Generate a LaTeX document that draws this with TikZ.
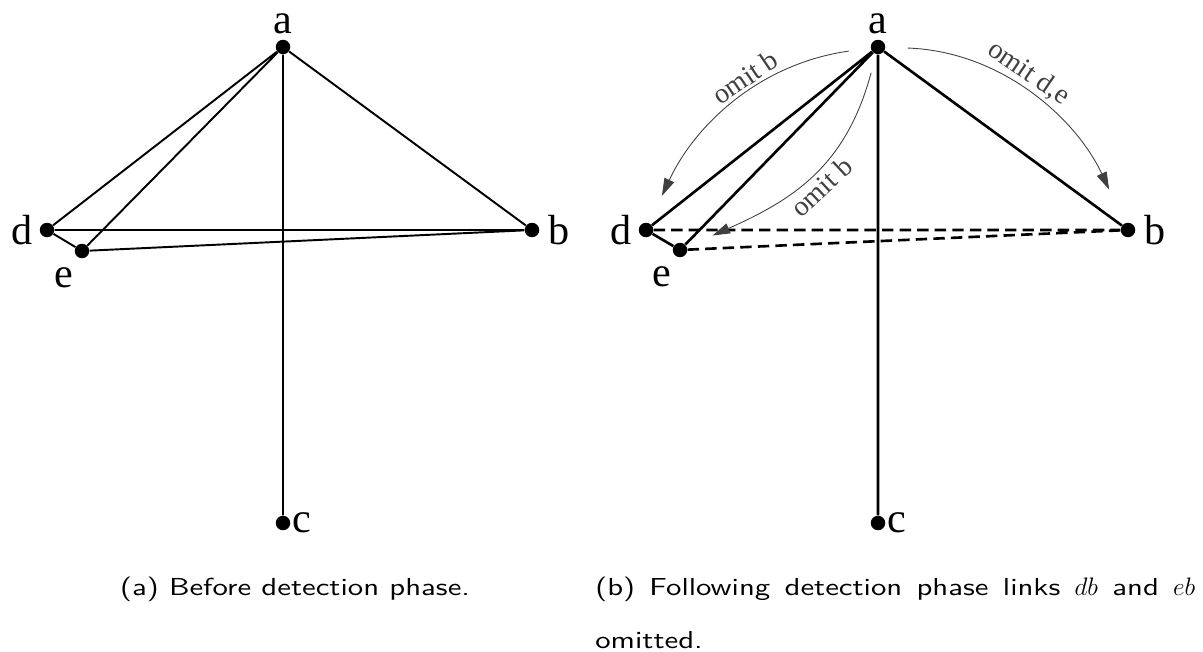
\documentclass[tikz,border=0pt]{standalone}
\usepackage{amsmath}
\usepackage{fontspec}
\usetikzlibrary{arrows.meta}
\newfontfamily\vlfont{Liberation Serif}
\newfontfamily\capfont[FakeStretch=1.25]{lmsans10-regular.otf}

\begin{document}
\begin{tikzpicture}[x=0.02cm,y=-0.02cm,>={Triangle[length=10pt,width=6pt]},
  vtx/.style={circle,fill=black,inner sep=0pt,minimum size=0.29cm},
  every label/.style={font=\vlfont\fontsize{24}{24}\selectfont,inner sep=1pt},
  link/.style={line width=1.1pt},
  cut/.style={line width=1.5pt,dash pattern=on 6.5pt off 3.5pt},
  omit/.style={->,black!75,line width=0.5pt},
  tag/.style={font=\vlfont\fontsize{16}{16}\selectfont,sloped,inner sep=3.5pt},
  captext/.style={font=\capfont\fontsize{14}{30.5}\selectfont,inner sep=0pt}]
\useasboundingbox (0,0) rectangle (1203,652);
% (a) before detection
\node[vtx,label={[label distance=2pt]above:a}] (a1) at (283,47) {};
\node[vtx,label={[label distance=2.5pt]left:d}] (d1) at (47,230) {};
\node[vtx,label={[label distance=5pt]245:e}] (e1) at (82,251) {};
\node[vtx,label={[label distance=4pt]right:b}] (b1) at (532,230) {};
\node[vtx,label={[label distance=0pt]right:c}] (c1) at (283,523) {};
\draw[link] (a1) -- (d1) (a1) -- (e1) (a1) -- (b1) (a1) -- (c1);
\draw[link] (d1) -- (e1) (d1) -- (b1) (e1) -- (b1);
\node[captext,anchor=base] (capa) at (295,595) {(a) Before detection phase.};
% (b) after detection
\node[vtx,label={[label distance=2pt]above:a}] (a2) at (878,47) {};
\node[vtx,label={[label distance=2.5pt]left:d}] (d2) at (646,230) {};
\node[vtx,label={[label distance=5pt]245:e}] (e2) at (680,250) {};
\node[vtx,label={[label distance=4pt]right:b}] (b2) at (1128,230) {};
\node[vtx,label={[label distance=0pt]right:c}] (c2) at (878,523) {};
\draw[link,line width=1.5pt] (a2) -- (d2) (a2) -- (e2) (a2) -- (b2) (a2) -- (c2) (d2) -- (e2);
\draw[cut] (d2) -- (b2) (e2) -- (b2);
\draw[omit,shorten <=0.44cm,shorten >=0.6cm] (a2) to[out=188,in=65] node[tag,above,pos=0.42] {omit b} (d2);
\draw[omit,shorten <=0.38cm,shorten >=0.56cm] (a2) to[out=255,in=24,looseness=1.1] node[tag,below,pos=0.5] {omit b} (e2);
\draw[omit,shorten <=0.44cm,shorten >=0.74cm] (a2) to[out=-2,in=115] node[tag,above,pos=0.45] {omit d,e} (b2);
\node[captext,anchor=base west,text width=12cm,align=justify] (capb) at (595,595)
  {(b) Following detection phase links $db$ and $eb$ omitted.};
\end{tikzpicture}
\end{document}
